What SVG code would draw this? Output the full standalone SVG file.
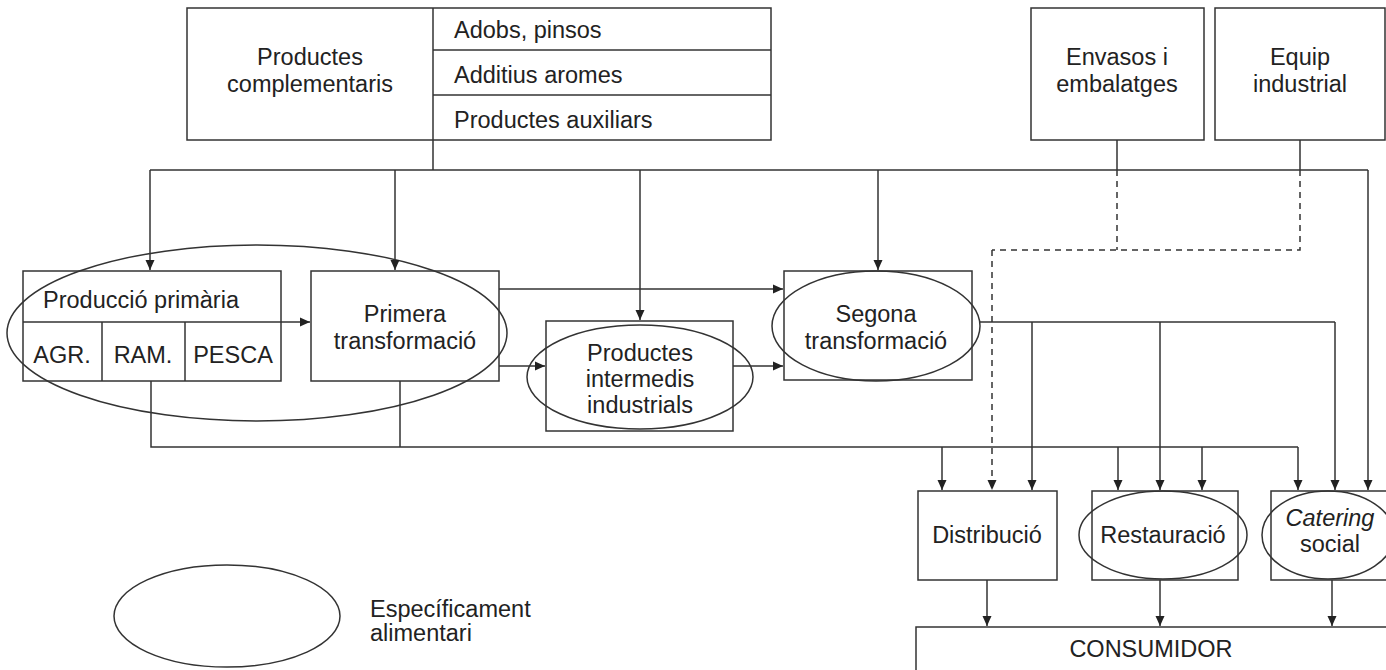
<svg xmlns="http://www.w3.org/2000/svg" width="1386" height="670" viewBox="0 0 1386 670">
<defs>
<marker id="ah" viewBox="0 0 10 10" refX="10" refY="5" markerWidth="10" markerHeight="10" markerUnits="userSpaceOnUse" orient="auto">
<path d="M0,0.5 L10,5 L0,9.5 Z" fill="#222"/>
</marker>
<style>
.b, ellipse, .ln { fill: none; stroke: #333; stroke-width: 1.5; }
.c { stroke: #333; stroke-width: 1.5; fill: none; }
.a { marker-end: url(#ah); }
.d { stroke-dasharray: 6 5; }
text { font-family: "Liberation Sans", Arial, sans-serif; font-size: 23.5px; fill: #222; }
.m { text-anchor: middle; }
.i { font-style: italic; }
</style>
</defs>
<rect x="0" y="0" width="1386" height="670" fill="#fff"/>

<g id="complementaris">
<rect class="b" x="187" y="8" width="584" height="132"/>
<line class="ln" x1="433" y1="8" x2="433" y2="140"/>
<line class="ln" x1="433" y1="50" x2="771" y2="50"/>
<line class="ln" x1="433" y1="95" x2="771" y2="95"/>
<text class="m" x="310" y="65">Productes</text>
<text class="m" x="310" y="92">complementaris</text>
<text x="454" y="38">Adobs, pinsos</text>
<text x="454" y="83">Additius aromes</text>
<text x="454" y="128">Productes auxiliars</text>
</g>

<g id="envasos">
<rect class="b" x="1031" y="8" width="173" height="132"/>
<text class="m" x="1117" y="65">Envasos i</text>
<text class="m" x="1117" y="92">embalatges</text>
</g>

<g id="equip">
<rect class="b" x="1215" y="8" width="170" height="132"/>
<text class="m" x="1300" y="65">Equip</text>
<text class="m" x="1300" y="92">industrial</text>
</g>

<g id="produccio">
<rect class="b" x="23" y="271" width="258" height="110"/>
<line class="ln" x1="23" y1="322" x2="281" y2="322"/>
<line class="ln" x1="102" y1="322" x2="102" y2="381"/>
<line class="ln" x1="185" y1="322" x2="185" y2="381"/>
<text class="m" x="141" y="308">Producció primària</text>
<text class="m" x="62" y="363">AGR.</text>
<text class="m" x="143" y="363">RAM.</text>
<text class="m" x="233" y="363">PESCA</text>
</g>

<g id="primera">
<rect class="b" x="311" y="271" width="188" height="110"/>
<text class="m" x="405" y="322">Primera</text>
<text class="m" x="405" y="349">transformació</text>
</g>

<g id="ellipse-primari">
<ellipse cx="257" cy="333" rx="250" ry="88"/>
</g>

<g id="intermedis">
<rect class="b" x="546" y="321" width="187" height="110"/>
<ellipse cx="640" cy="377" rx="113" ry="52"/>
<text class="m" x="640" y="361">Productes</text>
<text class="m" x="640" y="387">intermedis</text>
<text class="m" x="640" y="413">industrials</text>
</g>

<g id="segona">
<rect class="b" x="784" y="271" width="188" height="109"/>
<ellipse cx="876" cy="326" rx="104" ry="55"/>
<text class="m" x="876" y="322">Segona</text>
<text class="m" x="876" y="349">transformació</text>
</g>

<g id="distribucio">
<rect class="b" x="918" y="491" width="139" height="89"/>
<text class="m" x="987" y="543">Distribució</text>
</g>

<g id="restauracio">
<rect class="b" x="1092" y="491" width="146" height="89"/>
<ellipse cx="1163" cy="535" rx="84" ry="44"/>
<text class="m" x="1163" y="543">Restauració</text>
</g>

<g id="catering">
<rect class="b" x="1271" y="491" width="140" height="89"/>
<ellipse cx="1328" cy="535" rx="66" ry="44"/>
<text class="m i" x="1330" y="526">Catering</text>
<text class="m" x="1330" y="552">social</text>
</g>

<g id="consumidor">
<rect class="b" x="916" y="627" width="490" height="60"/>
<text class="m" x="1151" y="657">CONSUMIDOR</text>
</g>

<g id="legend">
<ellipse cx="227" cy="616" rx="113" ry="51"/>
<text x="370" y="617">Específicament</text>
<text x="370" y="641">alimentari</text>
</g>

<g id="connectors">
<path class="c" d="M433,140 V170 M150,170 H1368"/>
<path class="c a" d="M150,170 V270"/>
<path class="c a" d="M395,170 V270"/>
<path class="c a" d="M640,170 V320"/>
<path class="c a" d="M878,170 V270"/>
<path class="c a" d="M1368,170 V490"/>
<path class="c a" d="M281,322 H310"/>
<path class="c a" d="M499,289 H783"/>
<path class="c a" d="M499,366 H545"/>
<path class="c a" d="M733,366 H783"/>
<path class="c" d="M980,322 H1335"/>
<path class="c a" d="M1032,322 V490"/>
<path class="c a" d="M1160,322 V490"/>
<path class="c a" d="M1335,322 V490"/>
<path class="c" d="M151,381 V447 H1298 M400,381 V447"/>
<path class="c a" d="M942,447 V490"/>
<path class="c a" d="M1118,447 V490"/>
<path class="c a" d="M1202,447 V490"/>
<path class="c a" d="M1298,447 V490"/>
<path class="c" d="M1117,140 V170 M1300,140 V170"/>
<path class="c d" d="M1117,170 V250 M1300,170 V250 H992"/>
<path class="c d a" d="M992,250 V490"/>
<path class="c a" d="M987,580 V626"/>
<path class="c a" d="M1160,580 V626"/>
<path class="c a" d="M1332,580 V626"/>
</g>
</svg>
